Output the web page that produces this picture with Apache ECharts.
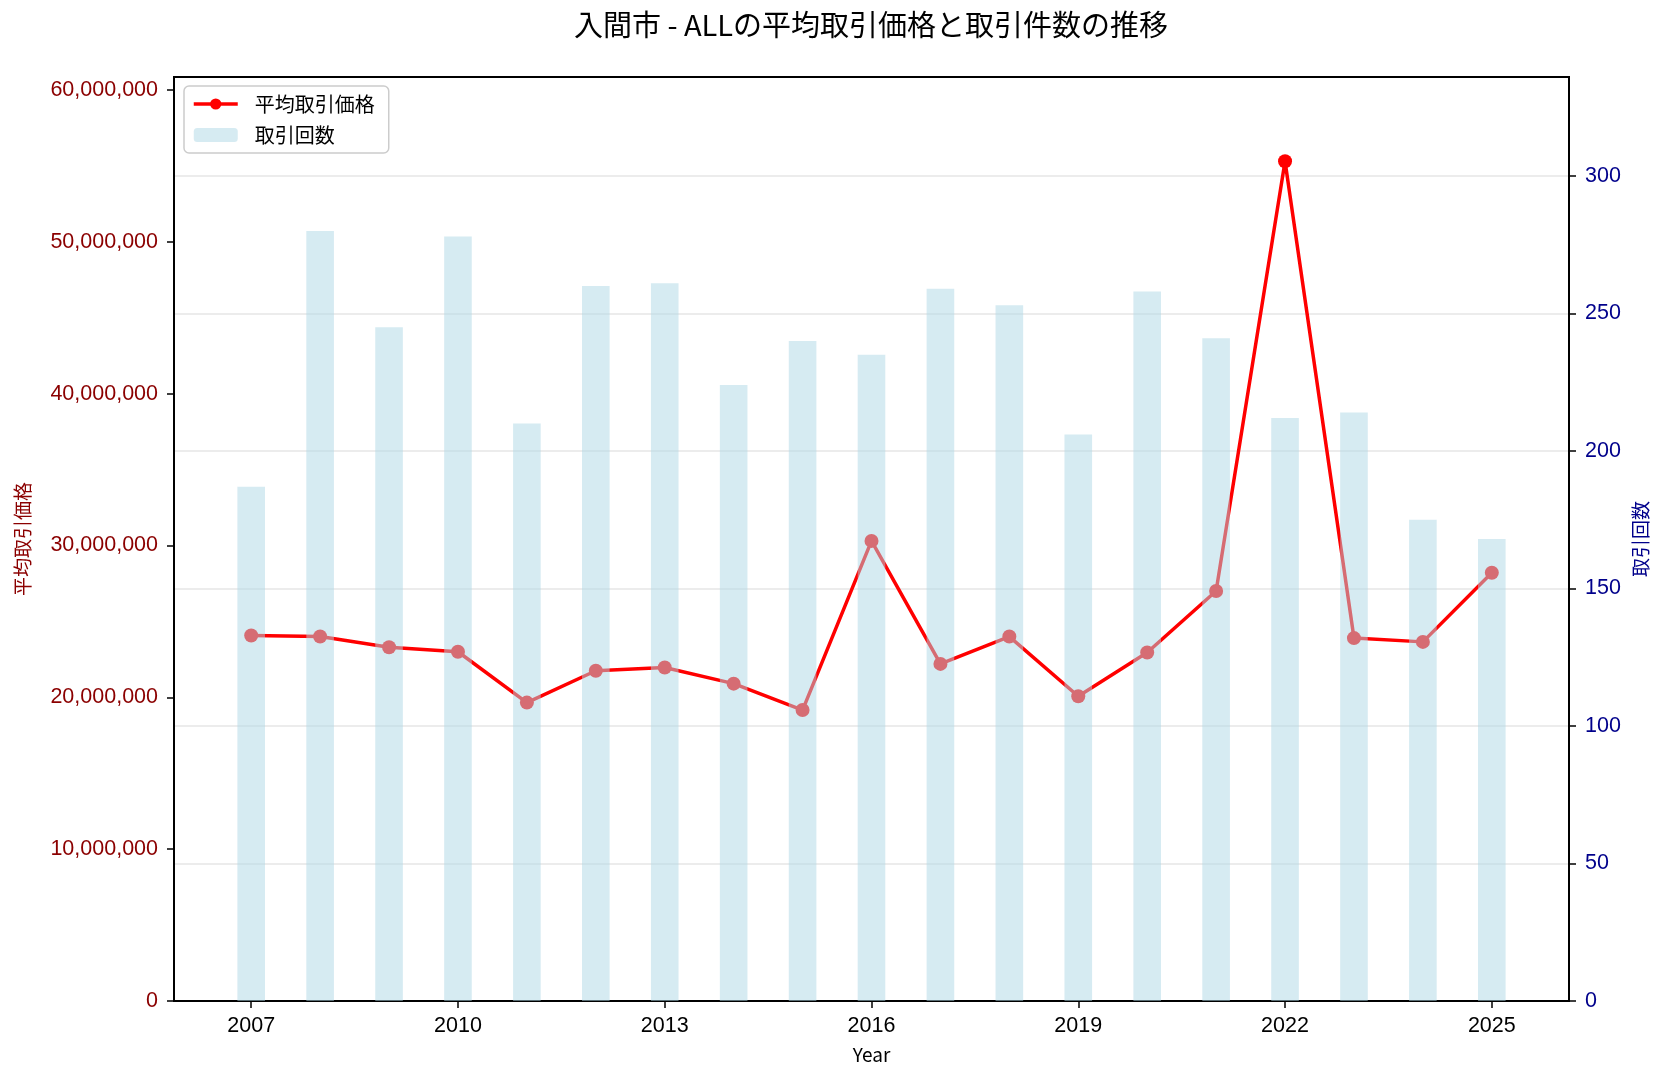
<!DOCTYPE html>
<html>
<head>
<meta charset="utf-8">
<script src="https://cdn.jsdelivr.net/npm/echarts@6/dist/echarts.min.js"></script>
<style>
  html, body { margin: 0; padding: 0; background: #fff; }
  #main { width: 1666px; height: 1079px; }
</style>
</head>
<body>
<div id="main"></div>
<script>
// 年ごとのデータ
var years = [2007, 2008, 2009, 2010, 2011, 2012, 2013, 2014, 2015, 2016,
  2017, 2018, 2019, 2020, 2021, 2022, 2023, 2024, 2025];
var avgPrice = [24070000, 24000000, 23300000, 23000000, 19650000, 21750000, 21960000,
  20900000, 19160000, 30300000, 22200000, 24000000, 20070000, 22950000, 27000000,
  55300000, 23900000, 23650000, 28200000];
var tradeCount = [187, 280, 245, 278, 210, 260, 261, 224, 240, 235,
  259, 253, 206, 258, 241, 212, 214, 175, 168];
var yearTicks = [2007, 2010, 2013, 2016, 2019, 2022, 2025];
var priceTicks = [0, 10000000, 20000000, 30000000, 40000000, 50000000, 60000000];
var countTicks = [0, 50, 100, 150, 200, 250, 300];

var font = 'Noto Sans CJK JP';
var numFont = 'Liberation Sans';
var chart = echarts.init(document.getElementById('main'));

var option = {
  backgroundColor: '#fff',
  textStyle: { fontFamily: font },
  title: {
    text: '入間市 - ALLの平均取引価格と取引件数の推移',
    left: 871,
    textAlign: 'center',
    top: 10,
    padding: 0,
    textStyle: { fontFamily: font, fontSize: 29, fontWeight: 'normal', color: '#000' }
  },
  legend: {
    data: ['平均取引価格', '取引回数'],
    orient: 'vertical',
    left: 184,
    top: 86,
    padding: [8, 14, 8, 8],
    itemGap: 11,
    itemWidth: 44,
    itemHeight: 14,
    borderColor: '#cccccc',
    borderWidth: 1.5,
    borderRadius: 5,
    backgroundColor: '#fff',
    lineStyle: { width: 3.5 },
    textStyle: { fontFamily: font, fontSize: 20, color: '#000', padding: [0, 0, 0, 12] }
  },
  grid: {
    left: 174,
    right: 97,
    top: 77,
    bottom: 78,
    show: true,
    borderColor: '#000',
    borderWidth: 2,
    backgroundColor: 'transparent'
  },
  xAxis: {
    type: 'value',
    min: 2005.88,
    max: 2026.12,
    name: 'Year',
    nameLocation: 'middle',
    nameGap: 44,
    nameTextStyle: { fontFamily: font, fontSize: 19, color: '#000' },
    axisLine: { lineStyle: { color: '#000', width: 2 } },
    axisTick: { customValues: yearTicks, length: 7, lineStyle: { color: '#000', width: 1.5 } },
    axisLabel: {
      customValues: yearTicks,
      margin: 14,
      fontFamily: numFont,
      fontSize: 21.5,
      color: '#000',
      formatter: function (v) { return String(Math.round(v)); }
    },
    splitLine: { show: false }
  },
  yAxis: [
    {
      type: 'value',
      min: 0,
      max: 60850000,
      position: 'left',
      name: '平均取引価格',
      nameLocation: 'middle',
      nameGap: 142,
      nameRotate: 90,
      nameTextStyle: { fontFamily: font, fontSize: 19, color: '#8b0000' },
      axisLine: { show: true, lineStyle: { color: '#000', width: 2 } },
      axisTick: { show: true, customValues: priceTicks, length: 7, lineStyle: { color: '#000', width: 1.5 } },
      axisLabel: {
        customValues: priceTicks,
        margin: 16,
        fontFamily: numFont,
        fontSize: 21.5,
        color: '#8b0000',
        formatter: function (v) { return Math.round(v).toLocaleString('en-US'); }
      },
      splitLine: { show: false }
    },
    {
      type: 'value',
      min: 0,
      max: 336,
      interval: 50,
      position: 'right',
      name: '取引回数',
      nameLocation: 'middle',
      nameGap: 60,
      nameRotate: 90,
      nameTextStyle: { fontFamily: font, fontSize: 19, color: '#00008b' },
      axisLine: { show: true, lineStyle: { color: '#000', width: 2 } },
      axisTick: { show: true, customValues: countTicks, length: 7, lineStyle: { color: '#000', width: 1.5 } },
      axisLabel: { customValues: countTicks, margin: 16, fontFamily: numFont, fontSize: 21.5, color: '#00008b' },
      splitLine: { show: true, lineStyle: { color: '#e6e6e6', width: 1.5 } }
    }
  ],
  series: [
    {
      name: '平均取引価格',
      type: 'line',
      yAxisIndex: 0,
      z: 2,
      data: years.map(function (y, i) { return [y, avgPrice[i]]; }),
      symbol: 'circle',
      symbolSize: 14,
      lineStyle: { color: '#ff0000', width: 3.5 },
      itemStyle: { color: '#ff0000' },
      emphasis: { disabled: true },
      animation: false
    },
    {
      name: '取引回数',
      type: 'bar',
      yAxisIndex: 1,
      z: 3,
      barWidth: 27.6,
      data: years.map(function (y, i) { return [y, tradeCount[i]]; }),
      itemStyle: { color: '#add8e6', opacity: 0.5 },
      emphasis: { disabled: true },
      animation: false
    }
  ]
};

chart.setOption(option);
</script>
</body>
</html>
